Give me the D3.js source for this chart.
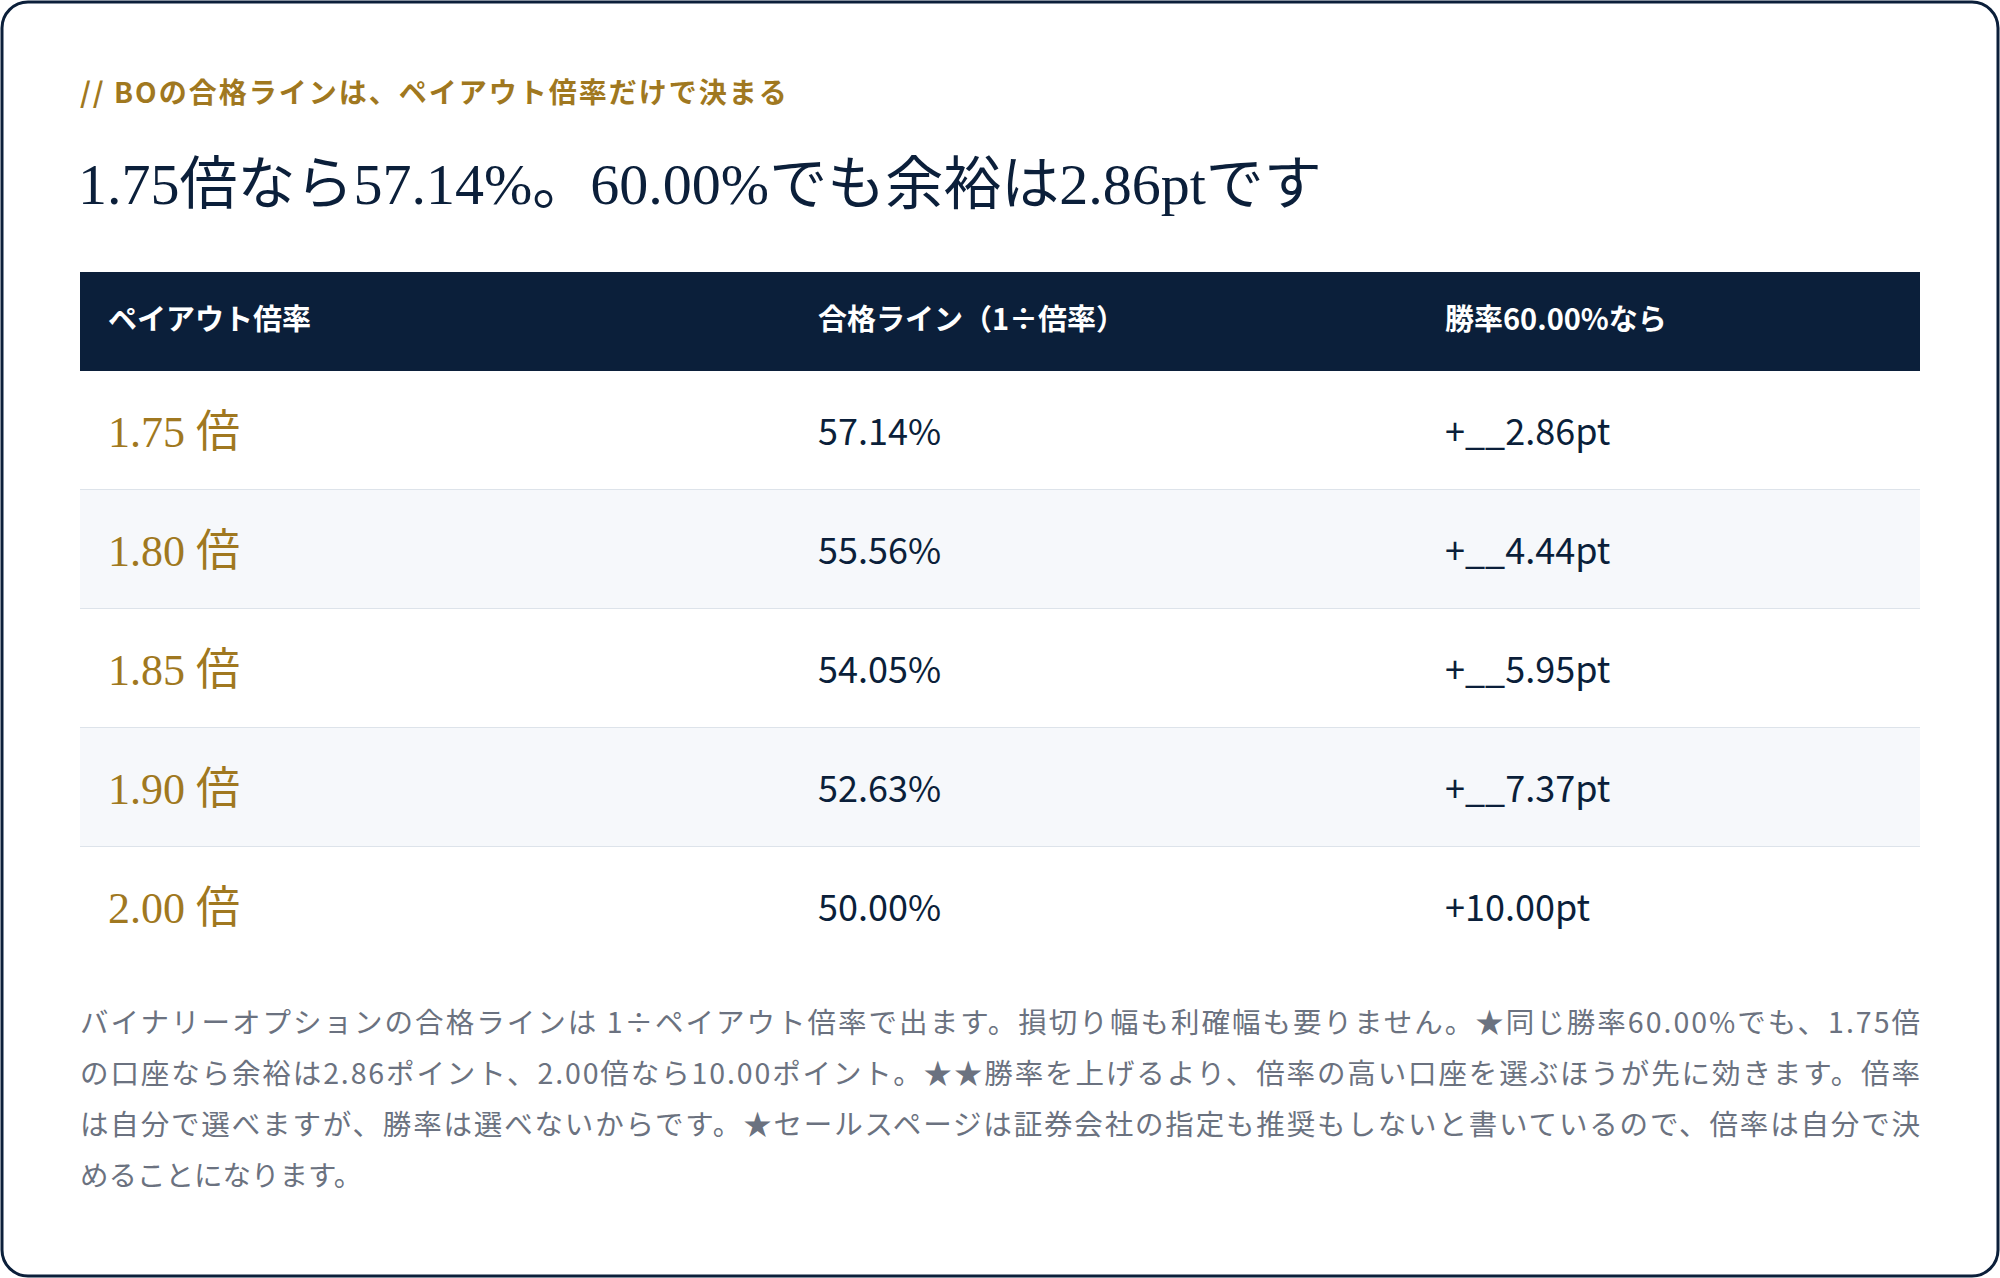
<!DOCTYPE html>
<html><head><meta charset="utf-8">
<script src="https://cdn.jsdelivr.net/npm/d3@7"></script>
<style>body{margin:0;background:#fff}</style>
</head><body><div class="chart"></div>
<script>
const WIDTH = 2000, HEIGHT = 1278;
const SANS = '"Noto Sans CJK JP","Noto Sans",sans-serif';
const SERIF = '"Liberation Serif","Noto Sans CJK JP",serif';

var kicker = '// BOの合格ラインは、ペイアウト倍率だけで決まる';
var title = '1.75倍なら57.14%。60.00%でも余裕は2.86ptです';
var headers = ['ペイアウト倍率', '合格ライン（1÷倍率）', '勝率60.00%なら'];
var payouts = ['1.75', '1.80', '1.85', '1.90', '2.00'];
var passLines = ['57.14%', '55.56%', '54.05%', '52.63%', '50.00%'];
var margins = ['+__2.86pt', '+__4.44pt', '+__5.95pt', '+__7.37pt', '+10.00pt'];
var notes = [
  'バイナリーオプションの合格ラインは 1÷ペイアウト倍率で出ます。損切り幅も利確幅も要りません。★同じ勝率60.00%でも、1.75倍',
  'の口座なら余裕は2.86ポイント、2.00倍なら10.00ポイント。★★勝率を上げるより、倍率の高い口座を選ぶほうが先に効きます。倍率',
  'は自分で選べますが、勝率は選べないからです。★セールスページは証券会社の指定も推奨もしないと書いているので、倍率は自分で決',
  'めることになります。'
];

var svg = d3.select('.chart').append('svg').attr('width', WIDTH).attr('height', HEIGHT);

svg.append('rect').attr('x', 2).attr('y', 2).attr('width', WIDTH - 4).attr('height', HEIGHT - 4)
  .attr('rx', 26).attr('fill', '#fff').attr('stroke', '#0b1f3a').attr('stroke-width', 3);

svg.append('text').attr('x', 80).attr('y', 103).text(kicker)
  .attr('font-family', SANS).attr('font-size', 28).attr('font-weight', 700)
  .attr('letter-spacing', 2).attr('fill', '#a07820');

svg.append('text').attr('x', 78).attr('y', 204).text(title)
  .attr('font-family', SERIF).attr('font-size', 58).attr('fill', '#0b1f3a');

var tableLeft = 80, tableRight = 1920;
var colX = d3.scaleOrdinal().domain([0, 1, 2]).range([108, 818, 1445]);
var y = d3.scaleBand().domain(d3.range(payouts.length)).range([371, 966]);

svg.append('rect').attr('x', tableLeft).attr('y', 272).attr('width', tableRight - tableLeft)
  .attr('height', 99).attr('fill', '#0b1f3a');
svg.selectAll('.hdr').data(headers).enter().append('text')
  .attr('x', function(d, i) { return colX(i); }).attr('y', 330).text(function(d) { return d; })
  .attr('font-family', SANS).attr('font-size', 29).attr('font-weight', 700).attr('fill', '#fff');

var rows = svg.selectAll('.row').data(payouts).enter().append('g')
  .attr('transform', function(d, i) { return 'translate(0,' + y(i) + ')'; });
rows.append('rect').attr('x', tableLeft).attr('width', tableRight - tableLeft)
  .attr('height', y.bandwidth()).attr('fill', function(d, i) { return i % 2 ? '#f6f8fb' : '#fff'; });
rows.filter(function(d, i) { return i < payouts.length - 1; }).append('line')
  .attr('x1', tableLeft).attr('x2', tableRight).attr('y1', y.bandwidth()).attr('y2', y.bandwidth())
  .attr('stroke', '#dde3ea').attr('stroke-width', 2);
var mid = y.bandwidth() / 2 + 14;
rows.append('text').attr('x', colX(0)).attr('y', mid + 2).text(function(d) { return d + ' 倍'; })
  .attr('font-family', SERIF).attr('font-size', 44).attr('fill', '#a07820');
rows.append('text').attr('x', colX(1)).attr('y', mid).text(function(d, i) { return passLines[i]; })
  .attr('font-family', SANS).attr('font-size', 36).attr('fill', '#0b1f3a');
rows.append('text').attr('x', colX(2)).attr('y', mid).text(function(d, i) { return margins[i]; })
  .attr('font-family', SANS).attr('font-size', 36).attr('fill', '#0b1f3a');

svg.selectAll('.note').data(notes).enter().append('text')
  .attr('x', 80).attr('y', function(d, i) { return 1033 + i * 51; }).text(function(d) { return d; })
  .attr('font-family', SANS).attr('font-size', 28.5).attr('fill', '#6b7280')
  .attr('textLength', function(d, i) { return i < 3 ? 1840 : null; });
</script></body></html>
